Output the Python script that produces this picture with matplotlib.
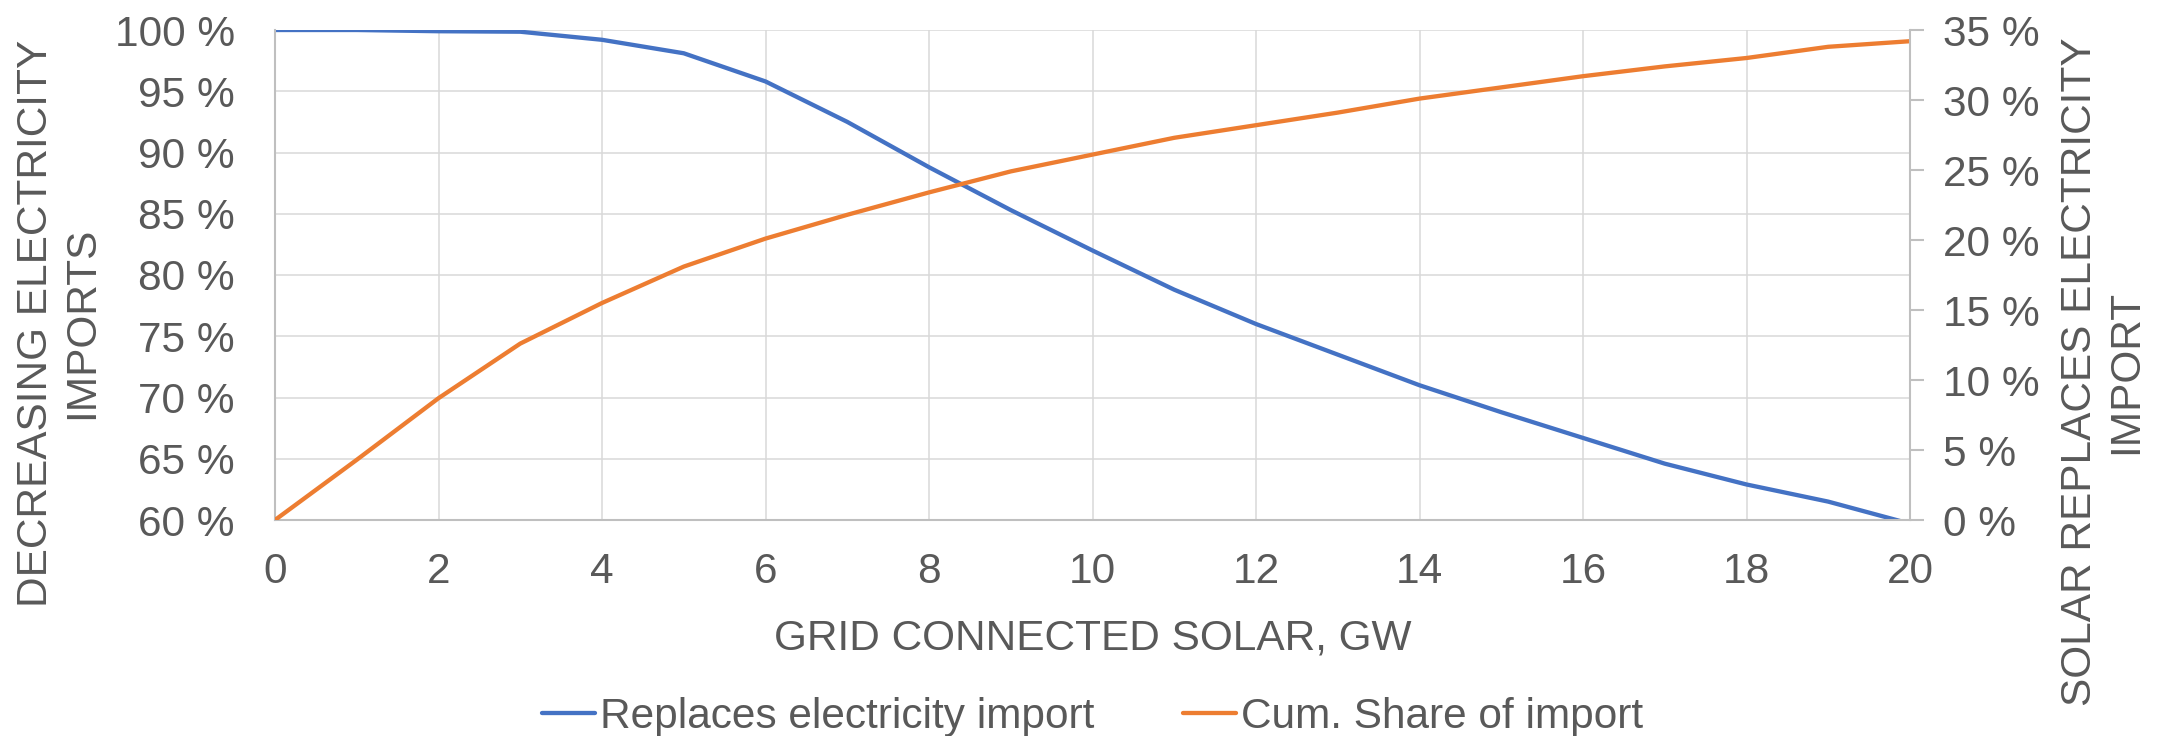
import numpy as np
import matplotlib
matplotlib.use("Agg")
import matplotlib.pyplot as plt
from matplotlib.ticker import FuncFormatter

plt.rcParams['font.family'] = ['Liberation Sans', 'DejaVu Sans']

# data
solar_gw = [0, 1, 2, 3, 4, 5, 6, 7, 8, 9, 10, 11, 12, 13, 14, 15, 16, 17, 18, 19, 20]
replaces_import = [100.0, 100.0, 99.9, 99.86, 99.2, 98.1, 95.8, 92.5, 88.8, 85.3, 82.0,
                   78.8, 76.0, 73.5, 71.0, 68.8, 66.7, 64.6, 62.9, 61.5, 59.7]
cum_share = [0.0, 4.3, 8.7, 12.6, 15.5, 18.1, 20.1, 21.8, 23.4, 24.9, 26.1,
             27.3, 28.2, 29.1, 30.1, 30.9, 31.7, 32.4, 33.0, 33.8, 34.2]

left_ticks = [60, 65, 70, 75, 80, 85, 90, 95, 100]
right_ticks = [0, 5, 10, 15, 20, 25, 30, 35]
x_ticks = [0, 2, 4, 6, 8, 10, 12, 14, 16, 18, 20]

TXT = '#595959'
GRID = '#D9D9D9'
AXC = '#BFBFBF'
BLUE = '#4472C4'
ORANGE = '#ED7D31'
FS = 30.5

fig = plt.figure(figsize=(21.7, 7.36), dpi=100)
ax = fig.add_axes([275/2170, 1 - 520/736, (1910 - 275)/2170, (520 - 30)/736])
ax2 = ax.twinx()

pct = FuncFormatter(lambda v, p: f"{v:.0f} %")

l1, = ax.plot(solar_gw, replaces_import, color=BLUE, lw=3.1, solid_capstyle='round',
              label='Replaces electricity import')
l2, = ax2.plot(solar_gw, cum_share, color=ORANGE, lw=3.1, solid_capstyle='round',
               label='Cum. Share of import')

ax.set_xlim(0, 20)
ax.set_ylim(60, 100)
ax2.set_ylim(0, 35)
ax.set_xticks(x_ticks)
ax.set_yticks(left_ticks)
ax2.set_yticks(right_ticks)
ax.yaxis.set_major_formatter(pct)
ax2.yaxis.set_major_formatter(pct)

ax.grid(True, color=GRID, lw=1.1)
ax.set_axisbelow(True)

for a in (ax, ax2):
    for s in a.spines.values():
        s.set_visible(False)
ax.spines['left'].set_visible(True)
ax.spines['bottom'].set_visible(True)
ax2.spines['right'].set_visible(True)
for s in (ax.spines['left'], ax.spines['bottom'], ax2.spines['right']):
    s.set_color(AXC)
    s.set_linewidth(1.5)

ax.tick_params(axis='both', length=0, labelsize=FS, labelcolor=TXT)
ax.tick_params(axis='y', pad=29)
ax.tick_params(axis='x', pad=23)
ax2.tick_params(axis='y', length=10, width=1.5, color=AXC, labelsize=FS,
                labelcolor=TXT, pad=14)

ax.set_xlabel('GRID CONNECTED SOLAR, GW', fontsize=FS, color=TXT, labelpad=19)

fig.text(59.5/2170, 1 - 323/736, 'DECREASING ELECTRICITY\nIMPORTS', rotation=90,
         ha='center', va='center', multialignment='center', fontsize=FS, color=TXT)
fig.text(2103/2170, 1 - 372/736, 'SOLAR REPLACES ELECTRICITY\nIMPORT', rotation=90,
         ha='center', va='center', multialignment='center', fontsize=FS, color=TXT)

leg = fig.legend(handles=[l1, l2], loc='center',
                 bbox_to_anchor=((275 + 1910) / 2 / 2170, 1 - 717/736),
                 ncol=2, frameon=False, fontsize=FS, handlelength=1.25,
                 handletextpad=0.12, columnspacing=2.1, labelcolor=TXT)

fig.savefig('out.png', dpi=100)
